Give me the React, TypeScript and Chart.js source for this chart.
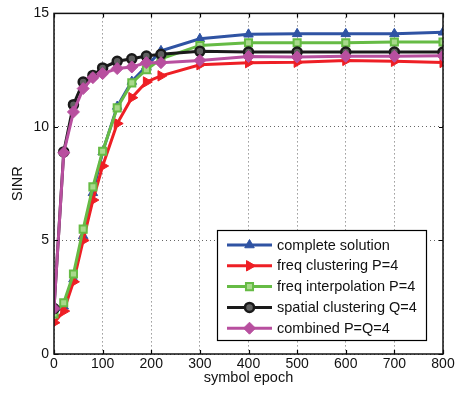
import React, { useEffect, useRef } from "react";
import { Chart, registerables } from "chart.js";
import { drawPoint } from "chart.js/helpers";

Chart.register(...registerables);

const epochs = [0, 20, 40, 60, 80, 100, 130, 160, 190, 220, 300, 400, 500, 600, 700, 800];
const completeSolution = [1.8, 2.1, 3.3, 5.2, 7.1, 8.9, 10.9, 12.0, 12.67, 13.35, 13.88, 14.08, 14.1, 14.1, 14.1, 14.17];
const freqClustering = [1.38, 1.89, 3.18, 5.0, 6.78, 8.28, 10.15, 11.29, 11.98, 12.25, 12.74, 12.83, 12.85, 12.93, 12.89, 12.84];
const freqInterpolation = [1.76, 2.26, 3.52, 5.5, 7.36, 8.93, 10.84, 11.94, 12.52, 13.0, 13.59, 13.71, 13.71, 13.71, 13.74, 13.74];
const spatialClustering = [2.0, 8.9, 10.98, 11.98, 12.27, 12.6, 12.89, 13.0, 13.12, 13.2, 13.33, 13.3, 13.3, 13.3, 13.3, 13.3];
const combined = [2.0, 8.86, 10.66, 11.69, 12.17, 12.35, 12.57, 12.64, 12.83, 12.83, 12.93, 13.1, 13.08, 13.11, 13.11, 13.13];

const seriesLabels = [
  "complete solution",
  "freq clustering P=4",
  "freq interpolation P=4",
  "spatial clustering Q=4",
  "combined P=Q=4",
];
const xTicks = [0, 100, 200, 300, 400, 500, 600, 700, 800];
const yTicks = [0, 5, 10, 15];

const FONT = "'Liberation Sans', Arial, Helvetica, sans-serif";

const styles = [
  { color: "#2f53a3", pointStyle: "triangle", radius: 5.5, rotation: 0, bg: "#2f53a3", bw: 1 },
  { color: "#ee1f25", pointStyle: "triangle", radius: 6, rotation: 90, bg: "#ee1f25", bw: 1 },
  { color: "#66bb45", pointStyle: "rect", radius: 5, rotation: 0, bg: "#a8d98c", bw: 2 },
  { color: "#1a1a1a", pointStyle: "circle", radius: 4.5, rotation: 0, bg: "#606060", bw: 2.5 },
  { color: "#b84f9f", pointStyle: "rectRot", radius: 6, rotation: 0, bg: "#b84f9f", bw: 1 },
];

const seriesValues = [completeSolution, freqClustering, freqInterpolation, spatialClustering, combined];

const framePlugin = {
  id: "frame",
  afterDatasetsDraw(chart: any) {
    const { ctx, chartArea } = chart;
    const { left, right, top, bottom } = chartArea;
    const xs = chart.scales.x;
    const ys = chart.scales.y;
    ctx.save();
    ctx.strokeStyle = "#000";
    ctx.lineWidth = 1.2;
    // inward ticks
    ctx.beginPath();
    for (const t of xTicks) {
      const px = Math.round(xs.getPixelForValue(t)) + 0.5;
      ctx.moveTo(px, bottom);
      ctx.lineTo(px, bottom - 4);
      ctx.moveTo(px, top);
      ctx.lineTo(px, top + 4);
    }
    for (const t of yTicks) {
      const py = Math.round(ys.getPixelForValue(t)) + 0.5;
      ctx.moveTo(left, py);
      ctx.lineTo(left + 4, py);
      ctx.moveTo(right, py);
      ctx.lineTo(right - 4, py);
    }
    ctx.stroke();
    ctx.lineWidth = 1.5;
    ctx.strokeStyle = "#111";
    ctx.strokeRect(left, top, right - left, bottom - top);

    // legend
    const bx = 217.5, by = 230.5, bw = 209, bh = 110;
    ctx.fillStyle = "#fff";
    ctx.fillRect(bx, by, bw, bh);
    ctx.lineWidth = 1.2;
    ctx.strokeStyle = "#000";
    ctx.strokeRect(bx, by, bw, bh);
    ctx.font = `14.5px ${FONT}`;
    ctx.textBaseline = "middle";
    ctx.textAlign = "left";
    for (let i = 0; i < seriesLabels.length; i++) {
      const s = styles[i];
      const y = 245 + i * 20.8;
      ctx.strokeStyle = s.color;
      ctx.lineWidth = 3;
      ctx.beginPath();
      ctx.moveTo(227, y);
      ctx.lineTo(272, y);
      ctx.stroke();
      ctx.fillStyle = s.bg;
      ctx.strokeStyle = s.color;
      ctx.lineWidth = s.bw;
      drawPoint(ctx, { pointStyle: s.pointStyle, rotation: s.rotation, radius: s.radius, borderWidth: s.bw } as any, 249.5, y);
      ctx.fillStyle = "#111";
      ctx.fillText(seriesLabels[i], 277, y + 0.5);
    }
    ctx.restore();
  },
};

export default function App() {
  const ref = useRef<HTMLCanvasElement | null>(null);
  useEffect(() => {
    document.body.style.margin = "0";
    const canvas = ref.current!;
    const chart = new Chart(canvas, {
      type: "line",
      data: {
        datasets: seriesValues.map((vals, i) => ({
          label: seriesLabels[i],
          data: epochs.map((x, j) => ({ x, y: vals[j] })),
          borderColor: styles[i].color,
          backgroundColor: styles[i].bg,
          pointBackgroundColor: styles[i].bg,
          pointBorderColor: styles[i].color,
          pointBorderWidth: styles[i].bw,
          pointStyle: styles[i].pointStyle as any,
          pointRotation: styles[i].rotation,
          pointRadius: styles[i].radius,
          borderWidth: 3,
          tension: 0,
          fill: false,
          order: 5 - i,
        })),
      },
      options: {
        animation: false,
        responsive: false,
        events: [],
        layout: { padding: { left: 0, top: 13, right: 14, bottom: 0 } },
        plugins: { legend: { display: false }, tooltip: { enabled: false } },
        scales: {
          x: {
            type: "linear",
            min: 0,
            max: 800,
            afterBuildTicks: (scale: any) => {
              scale.ticks = xTicks.map((v) => ({ value: v }));
            },
            afterFit: (scale: any) => {
              scale.height = 42;
            },
            ticks: { color: "#111", font: { family: FONT, size: 14 }, padding: 2, maxRotation: 0 },
            grid: { color: "#666", lineWidth: 1, drawTicks: false },
            border: { display: false, dash: [1, 3] },
            title: {
              display: true,
              text: "symbol epoch",
              color: "#111",
              font: { family: FONT, size: 14.5 },
              padding: { top: 0, bottom: 9 },
            },
          },
          y: {
            type: "linear",
            min: 0,
            max: 15,
            afterBuildTicks: (scale: any) => {
              scale.ticks = yTicks.map((v) => ({ value: v }));
            },
            afterFit: (scale: any) => {
              scale.width = 54;
            },
            ticks: { color: "#111", font: { family: FONT, size: 14 }, padding: 5 },
            grid: { color: "#666", lineWidth: 1, drawTicks: false },
            border: { display: false, dash: [1, 3] },
            title: {
              display: true,
              text: "SINR",
              color: "#111",
              font: { family: FONT, size: 14.5 },
              padding: { top: 9, bottom: 0 },
            },
          },
        },
      },
      plugins: [framePlugin],
    });
    return () => chart.destroy();
  }, []);
  return <canvas ref={ref} width={457} height={396} style={{ display: "block" }} />;
}
